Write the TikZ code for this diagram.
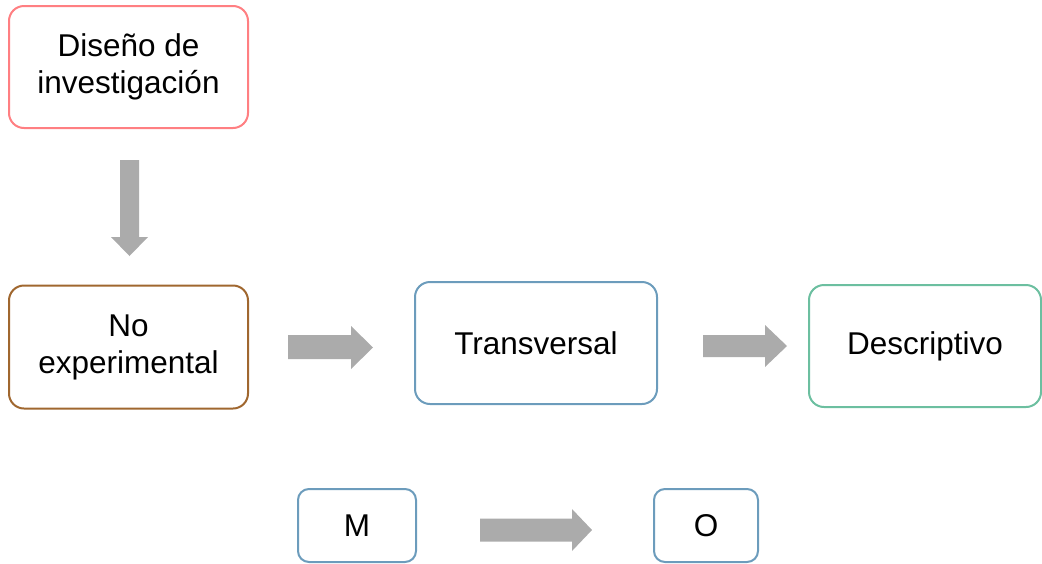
\documentclass[tikz,border=0pt]{standalone}
\usepackage{fontspec}
\setmainfont{Liberation Sans}
\definecolor{cpink}{HTML}{FF7F82}
\definecolor{cbrown}{HTML}{A0672F}
\definecolor{cblue}{HTML}{6C9CBC}
\definecolor{cgreen}{HTML}{6CBFA0}
\definecolor{cgray}{HTML}{ABABAB}
\begin{document}
\begin{tikzpicture}[x=1pt,y=-1pt,
  box/.style={draw, line width=2pt, rounded corners=15pt, fill=white, align=center,
    font=\fontsize{31.5}{37}\selectfont, inner sep=0pt},
  smallbox/.style={box, rounded corners=11pt},
  fat/.style={fill=cgray, draw=none}]
\useasboundingbox (0,0) rectangle (1042,563);
\node[box, draw=cpink, minimum width=239pt, minimum height=122pt] (dis) at (128.5,67) {Diseño de\\investigación};
\node[box, draw=cbrown, minimum width=239pt, minimum height=123pt] (noexp) at (128.5,347) {No\\experimental};
\node[box, draw=cblue, minimum width=242pt, minimum height=122pt] (trans) at (536,343) {Transversal};
\node[box, draw=cgreen, minimum width=232pt, minimum height=122pt] (desc) at (925,346) {Descriptivo};
\node[smallbox, draw=cblue, minimum width=118pt, minimum height=73pt] (m) at (357,525.5) {M};
\node[smallbox, draw=cblue, minimum width=104pt, minimum height=73pt] (o) at (706,525.5) {O};
% block arrows
\fill[fat] (120,160) -- (139,160) -- (139,237) -- (148,237) -- (129.5,256) -- (111,237) -- (120,237) -- cycle;
\fill[fat] (288,335) -- (351,335) -- (351,326) -- (373,347.5) -- (351,369) -- (351,359) -- (288,359) -- cycle;
\fill[fat] (703,335) -- (765,335) -- (765,325) -- (787,346) -- (765,367) -- (765,357) -- (703,357) -- cycle;
\fill[fat] (480,518.5) -- (572,518.5) -- (572,509) -- (592,530) -- (572,551) -- (572,541.5) -- (480,541.5) -- cycle;
\end{tikzpicture}
\end{document}
